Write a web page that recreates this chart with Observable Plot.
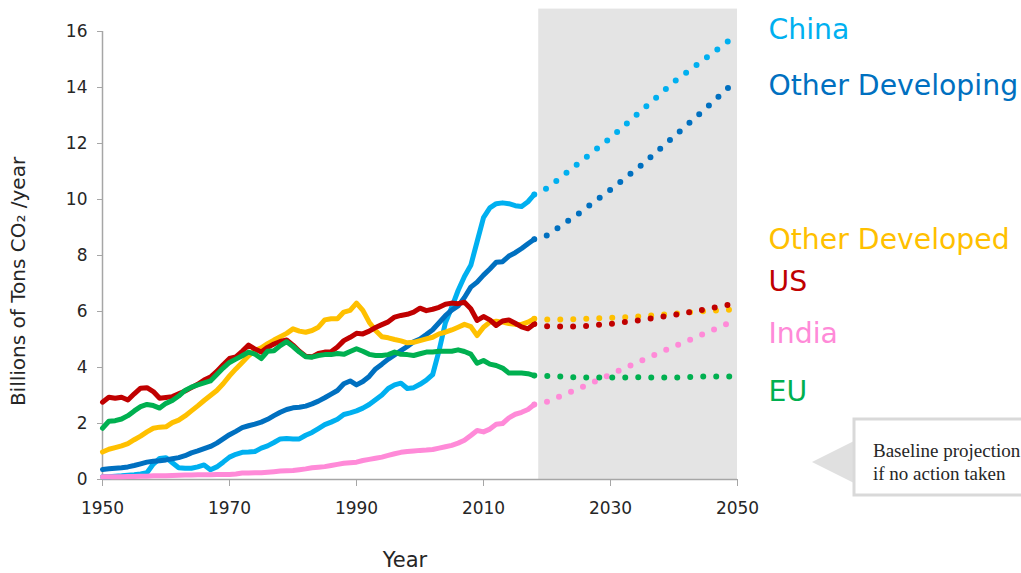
<!DOCTYPE html>
<html>
<head>
<meta charset="utf-8">
<script src="https://cdn.jsdelivr.net/npm/d3@7"></script>
<script src="https://cdn.jsdelivr.net/npm/@observablehq/plot@0.6"></script>
<style>
  html, body { margin: 0; padding: 0; background: #fff; overflow: hidden; }
  #chart { width: 1021px; height: 573px; }
</style>
</head>
<body>
<div id="chart"></div>
<script>
// ---------- DATA ----------
const years = d3.range(1950, 2019); // 1950..2018 historical

const china = [0.10,0.10,0.12,0.13,0.15,0.17,0.20,0.24,0.55,0.75,
  0.78,0.60,0.42,0.40,0.40,0.45,0.52,0.35,0.45,0.62,
  0.80,0.90,0.97,0.98,1.00,1.12,1.20,1.32,1.45,1.46,
  1.45,1.45,1.58,1.68,1.82,1.96,2.05,2.15,2.32,2.38,
  2.45,2.55,2.68,2.85,3.02,3.25,3.38,3.44,3.25,3.28,
  3.40,3.55,3.75,4.60,5.60,6.15,6.75,7.25,7.65,8.50,
  9.35,9.70,9.85,9.88,9.85,9.78,9.75,9.92,10.18];

const otherDeveloping = [0.36,0.38,0.40,0.42,0.45,0.50,0.56,0.62,0.65,0.67,
  0.70,0.74,0.78,0.85,0.95,1.02,1.10,1.18,1.30,1.45,
  1.60,1.72,1.85,1.92,1.98,2.05,2.15,2.28,2.40,2.50,
  2.56,2.58,2.62,2.70,2.80,2.92,3.05,3.18,3.42,3.52,
  3.38,3.50,3.68,3.95,4.12,4.30,4.45,4.60,4.75,4.92,
  5.02,5.18,5.35,5.60,5.85,6.05,6.20,6.50,6.87,7.05,
  7.30,7.52,7.76,7.78,7.98,8.10,8.25,8.42,8.58];

const otherDeveloped = [0.98,1.08,1.14,1.20,1.28,1.42,1.55,1.70,1.83,1.87,
  1.88,2.03,2.12,2.27,2.45,2.63,2.82,3.00,3.18,3.42,
  3.70,3.95,4.18,4.42,4.60,4.70,4.85,4.98,5.10,5.22,
  5.38,5.30,5.26,5.32,5.44,5.70,5.74,5.74,5.98,6.04,
  6.30,6.04,5.62,5.32,5.10,5.06,5.00,4.95,4.88,4.90,
  4.96,5.02,5.08,5.20,5.26,5.34,5.44,5.54,5.46,5.14,
  5.44,5.62,5.65,5.62,5.57,5.54,5.54,5.62,5.74];

const us = [2.76,2.94,2.90,2.94,2.84,3.06,3.26,3.28,3.14,2.90,
  2.93,2.96,3.06,3.16,3.28,3.40,3.55,3.66,3.86,4.10,
  4.32,4.38,4.58,4.80,4.66,4.55,4.72,4.84,4.93,4.98,
  4.80,4.58,4.40,4.38,4.50,4.55,4.56,4.73,4.96,5.08,
  5.22,5.20,5.30,5.43,5.53,5.63,5.80,5.86,5.90,5.98,
  6.12,6.03,6.08,6.15,6.26,6.30,6.28,6.33,6.10,5.68,
  5.82,5.70,5.50,5.66,5.70,5.58,5.45,5.38,5.55];

const india = [0.10,0.10,0.10,0.10,0.11,0.11,0.12,0.12,0.13,0.13,
  0.13,0.14,0.15,0.16,0.16,0.17,0.17,0.17,0.18,0.18,
  0.18,0.20,0.23,0.23,0.24,0.24,0.26,0.28,0.30,0.31,
  0.32,0.35,0.38,0.42,0.44,0.46,0.50,0.54,0.58,0.60,
  0.62,0.68,0.72,0.76,0.80,0.86,0.92,0.97,1.00,1.02,
  1.04,1.05,1.07,1.12,1.17,1.22,1.30,1.40,1.57,1.75,
  1.70,1.80,1.97,2.00,2.20,2.33,2.40,2.50,2.68];

const eu = [1.83,2.08,2.10,2.16,2.28,2.45,2.60,2.68,2.64,2.55,
  2.72,2.82,2.98,3.18,3.30,3.38,3.45,3.52,3.75,3.98,
  4.18,4.30,4.42,4.55,4.48,4.32,4.58,4.60,4.78,4.92,
  4.75,4.55,4.38,4.37,4.43,4.46,4.46,4.50,4.47,4.57,
  4.67,4.58,4.47,4.43,4.43,4.46,4.55,4.47,4.46,4.43,
  4.49,4.55,4.55,4.58,4.58,4.58,4.63,4.57,4.48,4.15,
  4.25,4.12,4.07,3.98,3.80,3.80,3.80,3.78,3.71];

// Baseline projections (dotted)
const projYears = [2018, 2020, 2025, 2030, 2035, 2040, 2045, 2050];
const chinaProj           = [10.18, 10.40, 11.30, 12.20, 13.20, 14.20, 15.05, 15.90];
const otherDevelopingProj = [8.58, 8.72, 9.50, 10.35, 11.25, 12.25, 13.25, 14.30];
const otherDevelopedProj  = [5.74, 5.71, 5.73, 5.77, 5.83, 5.92, 6.02, 6.08];
const usProj              = [5.55, 5.47, 5.46, 5.56, 5.70, 5.88, 6.08, 6.30];
const indiaProj           = [2.68, 2.78, 3.25, 3.75, 4.26, 4.75, 5.23, 5.72];
const euProj              = [3.71, 3.70, 3.64, 3.64, 3.65, 3.64, 3.68, 3.68];

const seriesNames = ["China", "Other Developing", "Other Developed", "US", "India", "EU"];
const seriesColors = ["#00B0F0", "#0070C0", "#FFC000", "#C00000", "#FF8AD8", "#00B050"];
const labelValues = [16.05, 14.07, 8.54, 7.04, 5.21, 3.11]; // label anchor heights (data units)

const xTicks = [1950, 1970, 1990, 2010, 2030, 2050];
const yTicks = [0, 2, 4, 6, 8, 10, 12, 14, 16];
const projectionStart = 2018.7;
const projectionTop = 16.8;

// ---------- BUILD TABLES ----------
const histSeries = [china, otherDeveloping, otherDeveloped, us, india, eu];
const projSeries = [chinaProj, otherDevelopingProj, otherDevelopedProj, usProj, indiaProj, euProj];
const hist = [];
histSeries.forEach((arr, i) => arr.forEach((v, j) => hist.push({series: seriesNames[i], year: years[j], value: v})));
const proj = [];
projSeries.forEach((arr, i) => arr.forEach((v, j) => proj.push({series: seriesNames[i], year: projYears[j], value: v})));
const labels = seriesNames.map((s, i) => ({series: s, value: labelValues[i]}));

const axisGrey = "#a6a6a6";
const textCol = "#262626";

const chart = Plot.plot({
  width: 1021,
  height: 573,
  marginLeft: 102,
  marginRight: 284,
  marginTop: 31,
  marginBottom: 94,
  style: {fontFamily: "DejaVu Sans", fontSize: "17px", color: textCol, background: "#fff"},
  x: {domain: [1950, 2050]},
  y: {domain: [0, 16]},
  color: {domain: seriesNames, range: seriesColors},
  marks: [
    Plot.rect([{}], {x1: projectionStart, x2: 2050, y1: 0, y2: projectionTop, fill: "#e4e4e4"}),
    Plot.ruleY([0], {stroke: axisGrey, strokeWidth: 1.5}),
    Plot.ruleX([1950], {y1: 0, y2: 16, stroke: axisGrey, strokeWidth: 1.5}),
    Plot.axisX({ticks: xTicks, tickFormat: d => String(d), tickSize: 7, tickPadding: 15, stroke: axisGrey, fill: textCol, fontSize: 17, label: null}),
    Plot.axisY({ticks: yTicks, tickSize: 5, tickPadding: 10, stroke: axisGrey, fill: textCol, fontSize: 17, label: null}),
    Plot.line(proj, {x: "year", y: "value", z: "series", stroke: "series", strokeWidth: 6, strokeDasharray: "0,13", strokeLinecap: "round"}),
    Plot.line(hist, {x: "year", y: "value", z: "series", stroke: "series", strokeWidth: 5, strokeLinejoin: "round", strokeLinecap: "round"}),
    Plot.text(labels, {x: 2050, y: "value", text: "series", fill: "series", dx: 31, textAnchor: "start", fontSize: 28.3}),
    Plot.text(["Year"], {frameAnchor: "bottom", dy: 81, dx: -15, lineAnchor: "middle", textAnchor: "middle", fontSize: 21, fill: textCol}),
    Plot.text(["Billions of Tons CO\u2082 /year"], {frameAnchor: "left", rotate: -90, dx: -84, dy: 26, textAnchor: "middle", lineAnchor: "middle", fontSize: 20, fill: textCol})
  ]
});

// Callout annotation
const svg = d3.select(chart);
const g = svg.append("g").attr("text-anchor", "start");
g.append("path").attr("d", "M812,462L854,441L854,483Z").attr("fill", "#e0e0e0").attr("stroke", "none");
g.append("rect").attr("x", 854).attr("y", 419).attr("width", 220).attr("height", 76)
  .attr("fill", "#fff").attr("stroke", "#d9d9d9").attr("stroke-width", 3);
g.append("text").attr("x", 873).attr("y", 457).attr("font-family", "Liberation Serif")
  .attr("font-size", 19).attr("fill", textCol).attr("text-anchor", "start").text("Baseline projection");
g.append("text").attr("x", 873).attr("y", 480).attr("font-family", "Liberation Serif")
  .attr("font-size", 19).attr("fill", textCol).attr("text-anchor", "start").text("if no action taken");

document.getElementById("chart").append(chart);
</script>
</body>
</html>
